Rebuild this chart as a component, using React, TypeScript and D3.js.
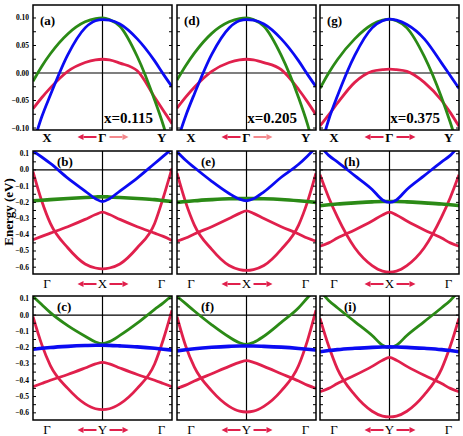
import React from 'react';
import * as d3 from 'd3';

// k along the path, -1 = left edge, 0 = centre (Γ / X / Y), 1 = right edge
const kPath = [-1, -0.875, -0.75, -0.5, -0.25, -0.1, 0, 0.1, 0.25, 0.5, 0.75, 0.875, 1];

// top row: X - Γ - Y, energies in eV
const aGreen = [-0.015, 0.012, 0.035, 0.071, 0.093, 0.099, 0.1, 0.097, 0.085, 0.03, -0.049, -0.095, -0.15];
const aBlue = [-0.13, -0.08, -0.04, 0.033, 0.082, 0.095, 0.097, 0.096, 0.089, 0.062, 0.022, -0.002, -0.025];
const aRed = [-0.065, -0.045, -0.027, 0.003, 0.019, 0.024, 0.025, 0.024, 0.018, 0.004, -0.044, -0.068, -0.092];

const dGreen = [-0.013, 0.013, 0.036, 0.072, 0.093, 0.099, 0.1, 0.097, 0.085, 0.032, -0.045, -0.092, -0.15];
const dBlue = [-0.125, -0.078, -0.038, 0.034, 0.082, 0.095, 0.097, 0.096, 0.089, 0.062, 0.022, -0.002, -0.025];
const dRed = [-0.064, -0.044, -0.026, 0.003, 0.019, 0.024, 0.025, 0.024, 0.019, 0.006, -0.03, -0.052, -0.076];

const gGreen = [-0.028, 0.0, 0.024, 0.062, 0.088, 0.096, 0.098, 0.095, 0.082, 0.03, -0.045, -0.09, -0.14];
const gBlue = [-0.14, -0.085, -0.042, 0.032, 0.082, 0.095, 0.098, 0.096, 0.088, 0.062, 0.018, -0.005, -0.028];
const gRed = [-0.096, -0.076, -0.055, -0.017, 0.003, 0.006, 0.007, 0.006, 0.003, -0.017, -0.05, -0.072, -0.097];

// middle row: Γ - X - Γ
const bBlue = [0.117, 0.08, 0.04, -0.05, -0.13, -0.178, -0.195, -0.178, -0.13, -0.05, 0.04, 0.085, 0.13];
const bGreen = [-0.19, -0.187, -0.183, -0.176, -0.17, -0.167, -0.165, -0.167, -0.17, -0.176, -0.183, -0.189, -0.195];
const bRedUp = [-0.01, -0.19, -0.33, -0.48, -0.58, -0.605, -0.61, -0.605, -0.58, -0.48, -0.33, -0.17, 0.01];
const bRedLow = [-0.43, -0.41, -0.39, -0.35, -0.305, -0.275, -0.26, -0.275, -0.305, -0.35, -0.39, -0.41, -0.435];

const eBlue = [0.113, 0.06, 0.015, -0.07, -0.145, -0.18, -0.19, -0.178, -0.135, -0.045, 0.035, 0.085, 0.14];
const eGreen = [-0.2, -0.195, -0.19, -0.183, -0.178, -0.177, -0.177, -0.177, -0.178, -0.182, -0.19, -0.195, -0.2];
const eRedUp = [-0.02, -0.2, -0.34, -0.49, -0.59, -0.615, -0.62, -0.615, -0.59, -0.49, -0.34, -0.2, -0.02];
const eRedLow = [-0.44, -0.42, -0.395, -0.35, -0.3, -0.268, -0.253, -0.268, -0.3, -0.35, -0.395, -0.42, -0.44];

const hBlue = [0.15, 0.09, 0.05, -0.035, -0.12, -0.185, -0.2, -0.185, -0.12, -0.035, 0.05, 0.09, 0.15];
const hGreen = [-0.22, -0.215, -0.21, -0.203, -0.197, -0.195, -0.195, -0.195, -0.197, -0.203, -0.21, -0.215, -0.22];
const hRedUp = [-0.03, -0.17, -0.29, -0.48, -0.59, -0.624, -0.63, -0.624, -0.59, -0.48, -0.29, -0.17, -0.03];
const hRedLow = [-0.47, -0.45, -0.42, -0.37, -0.315, -0.278, -0.26, -0.278, -0.315, -0.37, -0.42, -0.45, -0.47];

// bottom row: Γ - Y - Γ
const cGreen = [0.115, 0.065, 0.015, -0.065, -0.13, -0.165, -0.175, -0.163, -0.125, -0.05, 0.035, 0.075, 0.12];
const cBlue = [-0.21, -0.204, -0.199, -0.192, -0.187, -0.185, -0.185, -0.186, -0.189, -0.195, -0.204, -0.21, -0.215];
const cRedUp = [-0.01, -0.18, -0.31, -0.45, -0.545, -0.575, -0.58, -0.575, -0.545, -0.45, -0.3, -0.15, 0.03];
const cRedLow = [-0.44, -0.42, -0.4, -0.365, -0.325, -0.3, -0.29, -0.3, -0.325, -0.365, -0.4, -0.42, -0.44];

const fGreen = [0.115, 0.07, 0.025, -0.06, -0.135, -0.17, -0.18, -0.168, -0.13, -0.045, 0.045, 0.105, 0.16];
const fBlue = [-0.22, -0.213, -0.207, -0.198, -0.192, -0.19, -0.19, -0.19, -0.192, -0.197, -0.205, -0.21, -0.215];
const fRedUp = [-0.01, -0.19, -0.32, -0.465, -0.56, -0.59, -0.595, -0.59, -0.56, -0.465, -0.31, -0.16, 0.03];
const fRedLow = [-0.45, -0.43, -0.405, -0.36, -0.315, -0.29, -0.28, -0.29, -0.315, -0.36, -0.405, -0.43, -0.45];

const iGreen = [0.15, 0.09, 0.045, -0.04, -0.125, -0.185, -0.2, -0.185, -0.125, -0.04, 0.045, 0.09, 0.15];
const iBlue = [-0.225, -0.218, -0.212, -0.204, -0.198, -0.196, -0.195, -0.196, -0.198, -0.204, -0.212, -0.218, -0.225];
const iRedUp = [-0.02, -0.19, -0.33, -0.49, -0.59, -0.62, -0.625, -0.62, -0.59, -0.49, -0.33, -0.19, -0.02];
const iRedLow = [-0.47, -0.45, -0.42, -0.37, -0.315, -0.278, -0.26, -0.278, -0.315, -0.37, -0.42, -0.45, -0.47];

const panelTags = [['(a)', '(b)', '(c)'], ['(d)', '(e)', '(f)'], ['(g)', '(h)', '(i)']];
const dopings = ['x=0.115', 'x=0.205', 'x=0.375'];
const pathLabels = [['X', 'Γ', 'Y'], ['Γ', 'X', 'Γ'], ['Γ', 'Y', 'Γ']];

const GREEN = '#2b8a16';
const BLUE = '#0b0bf2';
const RED = '#e0204c';
const PINK = '#f3888c';

// bands[col][row]
const bands = [
  [
    [{ v: aRed, c: RED }, { v: aGreen, c: GREEN }, { v: aBlue, c: BLUE }],
    [{ v: bRedUp, c: RED }, { v: bRedLow, c: RED }, { v: bGreen, c: GREEN, w: 3.6 }, { v: bBlue, c: BLUE }],
    [{ v: cRedUp, c: RED }, { v: cRedLow, c: RED }, { v: cGreen, c: GREEN }, { v: cBlue, c: BLUE, w: 3.6 }],
  ],
  [
    [{ v: dRed, c: RED }, { v: dGreen, c: GREEN }, { v: dBlue, c: BLUE }],
    [{ v: eRedUp, c: RED }, { v: eRedLow, c: RED }, { v: eGreen, c: GREEN, w: 3.6 }, { v: eBlue, c: BLUE }],
    [{ v: fRedUp, c: RED }, { v: fRedLow, c: RED }, { v: fGreen, c: GREEN }, { v: fBlue, c: BLUE, w: 3.6 }],
  ],
  [
    [{ v: gRed, c: RED }, { v: gGreen, c: GREEN }, { v: gBlue, c: BLUE }],
    [{ v: hRedUp, c: RED }, { v: hRedLow, c: RED }, { v: hGreen, c: GREEN, w: 3.6 }, { v: hBlue, c: BLUE }],
    [{ v: iRedUp, c: RED }, { v: iRedLow, c: RED }, { v: iGreen, c: GREEN }, { v: iBlue, c: BLUE, w: 3.6 }],
  ],
];

const colLeft = [33, 177, 320];
const colW = 139;
const rows = [
  { top: 5, bottom: 130, domain: [-0.1036, 0.1236], ticks: d3.range(-0.1, 0.1001, 0.025), labelStep: 0.05, fmt: d3.format('.2f') },
  { top: 151, bottom: 274, domain: [-0.642, 0.117], ticks: d3.range(-0.6, 0.1001, 0.05), labelStep: 0.1, fmt: d3.format('.1f') },
  { top: 296, bottom: 420, domain: [-0.644, 0.117], ticks: d3.range(-0.6, 0.1001, 0.05), labelStep: 0.1, fmt: d3.format('.1f') },
];

const serif = '"Liberation Serif", "Times New Roman", serif';

function Arrow({ x1, x2, y, color }) {
  const dir = Math.sign(x2 - x1);
  const hx = x2 - dir * 6;
  return (
    <g>
      <line x1={x1} y1={y} x2={hx} y2={y} stroke={color} strokeWidth={2} />
      <polygon points={`${x2},${y} ${hx},${y - 3} ${hx},${y + 3}`} fill={color} />
    </g>
  );
}

function Panel({ col, row }) {
  const r = rows[row];
  const left = colLeft[col];
  const right = left + colW;
  const x = d3.scaleLinear().domain([-1, 1]).range([left, right]);
  const y = d3.scaleLinear().domain(r.domain).range([r.bottom, r.top]);
  const line = d3.line<number>()
    .x((_, i) => x(kPath[i]))
    .y((d) => y(d))
    .curve(d3.curveMonotoneX);
  const clipId = `clip-${col}-${row}`;
  const cx = x(0);
  const labelY = r.bottom + (row === 0 ? 12 : 14);
  const arrowY = r.bottom + (row === 0 ? 7 : 10);
  const rightArrow = row === 0 && col < 2 ? PINK : RED;

  return (
    <g>
      <clipPath id={clipId}>
        <rect x={left} y={r.top} width={colW} height={r.bottom - r.top} />
      </clipPath>
      <line x1={left} x2={right} y1={y(0)} y2={y(0)} stroke="#000" strokeWidth={1.2} />
      <line x1={cx} x2={cx} y1={r.top} y2={r.bottom} stroke="#000" strokeWidth={1.2} />
      <g clipPath={`url(#${clipId})`}>
        {bands[col][row].map((b, i) => (
          <path key={i} d={line(b.v)} fill="none" stroke={b.c} strokeWidth={b.w || 2.8} />
        ))}
      </g>
      {r.ticks.map((t, i) => (
        <g key={i}>
          <line x1={left} x2={left + 3} y1={y(t)} y2={y(t)} stroke="#000" strokeWidth={1} />
          <line x1={right - 3} x2={right} y1={y(t)} y2={y(t)} stroke="#000" strokeWidth={1} />
        </g>
      ))}
      {col === 0 && r.ticks
        .filter((t) => Math.abs(Math.round(t / r.labelStep) * r.labelStep - t) < 1e-6)
        .map((t, i) => (
          <text key={i} x={left - 4} y={y(t) + 2.5} textAnchor="end" fontFamily={serif}
            fontWeight="bold" fontSize={7.5}>{r.fmt(Math.abs(t) < 1e-9 ? 0 : t)}</text>
        ))}
      <rect x={left} y={r.top} width={colW} height={r.bottom - r.top} fill="none" stroke="#000" strokeWidth={1.5} />
      <text x={left + (row === 0 ? 7 : 24)} y={r.top + (row === 0 ? 20 : 15)} fontFamily={serif}
        fontWeight="bold" fontSize={13}>{panelTags[col][row]}</text>
      {row === 0 && (
        <text x={right - 19} y={r.bottom - 7} textAnchor="end" fontFamily={serif}
          fontWeight="bold" fontSize={15}>{dopings[col]}</text>
      )}
      <text x={x(-0.8)} y={labelY} textAnchor="middle" fontFamily={serif}
        fontWeight={row === 0 ? 'bold' : 'normal'} fontSize={13}>{pathLabels[row][0]}</text>
      <text x={cx} y={labelY} textAnchor="middle" fontFamily={serif}
        fontWeight={row === 0 ? 'bold' : 'normal'} fontSize={13}>{pathLabels[row][1]}</text>
      <text x={x(0.85)} y={labelY} textAnchor="middle" fontFamily={serif}
        fontWeight={row === 0 ? 'bold' : 'normal'} fontSize={13}>{pathLabels[row][2]}</text>
      <Arrow x1={cx - 6} x2={cx - 25} y={arrowY} color={RED} />
      <Arrow x1={cx + 7} x2={cx + 26} y={arrowY} color={rightArrow} />
    </g>
  );
}

export default function App() {
  return (
    <svg width={463} height={436} style={{ position: 'absolute', left: 0, top: 0, background: '#fff' }}>
      {[0, 1, 2].map((col) => [0, 1, 2].map((row) => <Panel key={`${col}-${row}`} col={col} row={row} />))}
      <text transform="translate(13,212) rotate(-90)" textAnchor="middle" fontFamily={serif}
        fontWeight="bold" fontSize={13}>Energy (eV)</text>
    </svg>
  );
}
